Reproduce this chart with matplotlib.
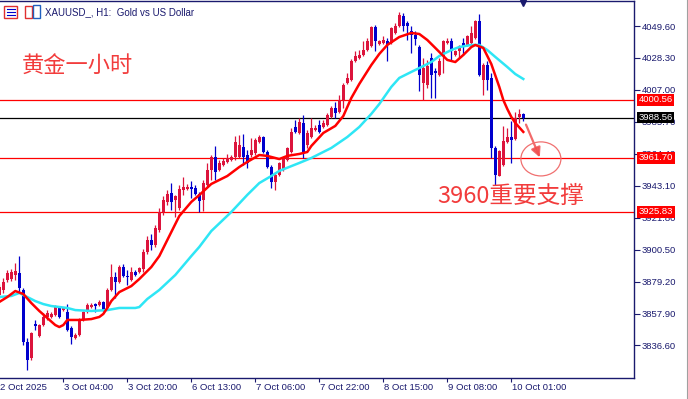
import matplotlib
matplotlib.use("Agg")
import matplotlib.pyplot as plt
import matplotlib.transforms as mtransforms
from matplotlib.patches import Rectangle, Ellipse
from matplotlib.lines import Line2D

plt.rcParams["font.family"] = ["Liberation Sans", "DejaVu Sans"]

NAVY = "#1a1a6e"
BULL = "#dc143c"
BEAR = "#0000cd"
LVL = "#ff0000"
NOTE = "#f23c3c"

# ---------- 数据: XAUUSD H1 K线 (索引 0..131) ----------
opens = [3870.3, 3873.6, 3880.3, 3881.0, 3883.6, 3885.0, 3873.6, 3838.9, 3828.3, 3851.0,
         3843.0, 3850.3, 3855.6, 3855.6, 3857.0, 3862.3, 3860.3, 3859.0, 3848.3, 3841.6,
         3843.6, 3853.6, 3859.0, 3862.3, 3864.3, 3863.6, 3865.6, 3861.6, 3873.6, 3882.3,
         3879.0, 3888.9, 3882.9, 3880.3, 3885.6, 3885.6, 3887.6, 3898.9, 3906.9, 3903.6,
         3913.6, 3925.6, 3932.3, 3938.3, 3933.6, 3928.3, 3940.3, 3941.0, 3942.3, 3941.6,
         3937.6, 3933.6, 3943.6, 3953.6, 3962.3, 3953.6, 3957.0, 3959.0, 3960.3, 3962.3,
         3962.3, 3969.0, 3963.6, 3963.6, 3965.0, 3972.3, 3975.6, 3965.6, 3955.6, 3945.6,
         3950.3, 3953.6, 3960.3, 3965.6, 3982.3, 3978.3, 3985.0, 3970.3, 3975.6, 3980.3,
         3983.6, 3982.3, 3983.6, 3989.0, 3995.0, 3992.3, 4000.3, 4011.6, 4013.6, 4026.3,
         4028.3, 4030.3, 4033.6, 4036.3, 4049.0, 4037.6, 4038.3, 4039.6, 4038.3, 4045.0,
         4049.6, 4056.3, 4051.6, 4046.3, 4043.6, 4035.6, 4011.6, 4010.3, 4028.3, 4019.6,
         4017.0, 4029.6, 4038.3, 4039.6, 4030.3, 4033.0, 4038.3, 4037.0, 4038.3, 4041.6,
         4053.0, 4013.6, 4023.6, 4015.0, 3968.3, 3949.6, 3957.0, 3972.3, 3975.6, 3974.3,
         3989.0, 3991.0]
highs = [3877.6, 3881.6, 3887.0, 3887.6, 3891.6, 3896.3, 3875.0, 3841.6, 3845.6, 3853.6,
         3851.0, 3858.3, 3860.3, 3859.0, 3863.6, 3863.0, 3862.3, 3864.3, 3849.6, 3844.9,
         3854.9, 3859.6, 3864.9, 3864.9, 3864.9, 3867.0, 3866.3, 3875.0, 3890.9, 3885.6,
         3890.3, 3890.9, 3887.0, 3888.9, 3887.0, 3888.9, 3900.9, 3909.6, 3910.9, 3917.0,
         3928.3, 3936.3, 3940.3, 3945.0, 3937.0, 3943.6, 3948.9, 3944.3, 3946.3, 3943.6,
         3939.0, 3947.0, 3958.3, 3963.6, 3969.6, 3960.3, 3961.6, 3964.3, 3963.6, 3976.3,
         3977.0, 3977.6, 3967.0, 3975.0, 3975.0, 3977.0, 3976.3, 3967.0, 3957.0, 3952.3,
         3959.0, 3962.3, 3969.0, 3981.6, 3987.0, 3988.3, 3990.3, 3980.3, 3988.3, 3983.6,
         3987.0, 3987.0, 3991.6, 3996.3, 3999.0, 4003.6, 4011.6, 4018.3, 4027.6, 4033.0,
         4033.6, 4039.6, 4041.6, 4049.6, 4050.3, 4040.3, 4043.0, 4041.6, 4049.0, 4051.6,
         4059.0, 4058.3, 4053.0, 4049.6, 4046.3, 4037.0, 4028.3, 4027.0, 4031.6, 4021.6,
         4028.3, 4040.3, 4041.6, 4041.6, 4033.6, 4037.0, 4041.6, 4043.6, 4049.6, 4053.6,
         4057.6, 4025.0, 4026.3, 4018.3, 3969.6, 3967.0, 3983.0, 3981.6, 3986.3, 3992.3,
         3994.3, 3991.6]
lows = [3868.3, 3871.6, 3879.0, 3879.6, 3880.3, 3872.3, 3836.9, 3820.3, 3827.0, 3847.0,
        3842.3, 3849.6, 3853.6, 3855.0, 3856.3, 3855.0, 3859.6, 3846.3, 3837.6, 3840.9,
        3843.0, 3852.9, 3858.3, 3861.6, 3859.0, 3863.0, 3859.6, 3860.9, 3872.9, 3868.3,
        3878.3, 3882.3, 3876.9, 3879.6, 3882.9, 3884.9, 3885.6, 3897.6, 3900.3, 3902.3,
        3912.3, 3923.6, 3930.3, 3927.0, 3922.3, 3927.0, 3937.0, 3940.3, 3935.0, 3937.0,
        3925.6, 3926.3, 3943.0, 3947.0, 3947.0, 3953.0, 3956.3, 3958.3, 3959.6, 3960.3,
        3961.6, 3957.0, 3955.0, 3962.3, 3963.6, 3971.6, 3965.0, 3955.0, 3941.6, 3940.3,
        3949.6, 3953.0, 3959.6, 3965.0, 3978.3, 3977.6, 3961.6, 3968.3, 3975.0, 3979.6,
        3978.3, 3981.6, 3983.0, 3988.3, 3988.3, 3991.6, 3995.0, 4011.0, 4013.0, 4025.6,
        4027.6, 4029.6, 4033.0, 4035.6, 4033.0, 4037.0, 4037.6, 4026.3, 4037.6, 4044.3,
        4049.0, 4046.3, 4040.3, 4031.6, 4037.0, 4006.3, 4000.3, 4008.3, 4001.6, 4001.6,
        4016.3, 4018.3, 4037.6, 4026.3, 4029.6, 4028.3, 4030.3, 4036.3, 4037.6, 4041.0,
        4016.3, 4003.6, 4007.0, 3961.6, 3943.6, 3949.6, 3956.3, 3971.6, 3958.3, 3973.6,
        3985.0, 3986.3]
closes = [3875.6, 3879.0, 3885.0, 3885.6, 3886.3, 3875.0, 3838.9, 3827.0, 3844.9, 3849.6,
          3850.3, 3855.6, 3858.3, 3857.6, 3862.3, 3855.6, 3861.6, 3847.0, 3842.3, 3843.6,
          3853.6, 3859.0, 3863.6, 3863.6, 3863.0, 3865.6, 3860.3, 3873.6, 3882.3, 3879.0,
          3888.9, 3882.9, 3882.3, 3885.6, 3883.6, 3888.3, 3898.9, 3906.9, 3903.6, 3915.0,
          3925.6, 3933.6, 3937.6, 3932.3, 3936.3, 3941.0, 3942.3, 3942.3, 3941.0, 3937.6,
          3932.9, 3945.0, 3953.6, 3962.3, 3952.3, 3958.3, 3959.6, 3961.6, 3962.3, 3972.3,
          3970.3, 3962.3, 3958.3, 3967.0, 3973.6, 3975.6, 3965.6, 3955.6, 3945.6, 3950.3,
          3958.3, 3961.6, 3968.3, 3979.0, 3979.0, 3985.6, 3965.6, 3978.3, 3981.6, 3981.6,
          3979.0, 3985.0, 3990.3, 3995.0, 3991.6, 4000.3, 4010.3, 4015.0, 4026.3, 4029.6,
          4030.3, 4033.6, 4039.6, 4049.0, 4039.6, 4039.6, 4040.3, 4037.0, 4048.3, 4049.6,
          4057.0, 4049.6, 4049.6, 4043.6, 4041.0, 4017.0, 4021.6, 4023.0, 4017.0, 4018.3,
          4026.3, 4039.6, 4039.6, 4033.0, 4033.0, 4036.3, 4036.3, 4043.0, 4045.0, 4053.0,
          4017.0, 4023.6, 4013.6, 3968.3, 3950.3, 3966.3, 3973.0, 3975.6, 3973.6, 3988.3,
          3991.0, 3988.3]

# 快速均线 (红) 与 慢速均线 (青), 按 K 线索引取样
ma_fast_idx = [0, 2, 4, 6, 8, 10, 12, 14, 15, 16, 17, 20, 23, 25, 26, 27, 28, 30, 33, 35,
               38, 40, 42, 45, 48, 50, 53, 57, 60, 62, 65, 67, 70, 72, 75, 77, 78, 81, 84, 86,
               88, 90, 93, 95, 97, 100, 103, 105, 107, 109, 112, 114, 116, 118, 119, 121, 123,
               125, 126, 127, 128, 129, 131]
ma_fast = [3865.6, 3868.9, 3872.9, 3870.9, 3864.9, 3859.6, 3854.9, 3850.2, 3848.9, 3850.2,
           3853.6, 3853.6, 3854.2, 3855.6, 3857.6, 3861.6, 3866.2, 3872.2, 3876.2, 3880.9,
           3888.9, 3896.2, 3906.9, 3922.9, 3932.3, 3936.9, 3944.3, 3949.6, 3955.6, 3959.0,
           3963.6, 3963.0, 3960.9, 3963.0, 3964.3, 3965.6, 3969.6, 3978.3, 3983.0, 3989.6,
           4001.6, 4011.0, 4023.6, 4031.0, 4037.0, 4042.3, 4045.0, 4044.3, 4040.3, 4035.0,
           4027.0, 4025.6, 4030.3, 4035.6, 4037.0, 4035.0, 4024.3, 4009.0, 4000.3, 3994.3,
           3989.0, 3985.0, 3979.0]
ma_slow_idx = [0, 3, 5, 7, 9, 11, 13, 17, 19, 23, 27, 30, 34, 35, 37, 40, 44, 48, 50, 53,
               58, 62, 65, 68, 70, 75, 78, 83, 87, 90, 93, 95, 98, 100, 103, 105, 108, 110,
               113, 115, 118, 120, 122, 124, 127, 129, 131]
ma_slow = [3868.9, 3869.6, 3871.6, 3868.9, 3866.2, 3864.2, 3862.9, 3861.6, 3860.2, 3859.6,
           3860.2, 3861.6, 3861.6, 3862.2, 3867.6, 3873.6, 3883.6, 3896.2, 3902.3, 3912.9,
           3925.6, 3937.0, 3944.9, 3949.6, 3953.0, 3958.3, 3961.6, 3968.3, 3975.6, 3982.3,
           3991.0, 3997.6, 4009.0, 4015.0, 4019.0, 4021.6, 4025.6, 4029.6, 4033.6, 4035.6,
           4037.0, 4037.0, 4033.6, 4029.0, 4022.3, 4017.6, 4014.3]

levels = [4000.56, 3961.70, 3925.83]
bid = 3988.56
y_ticks = [4049.60, 4028.30, 4007.00, 3985.70, 3964.40, 3943.10, 3921.80,
           3900.50, 3879.20, 3857.90, 3836.60]
x_tick_idx = [0, 16, 32, 48, 64, 80, 96, 112, 128]
x_tick_labels = ["2 Oct 2025", "3 Oct 04:00", "3 Oct 20:00", "6 Oct 13:00", "7 Oct 06:00",
                 "7 Oct 22:00", "8 Oct 15:00", "9 Oct 08:00", "10 Oct 01:00"]

W, H = 688, 399
fig = plt.figure(figsize=(W / 100, H / 100), dpi=100)
ax = fig.add_axes([0, 1 - 378 / H, 634 / W, 377 / H])
ax.set_xlim(0.175, 158.675)
ax.set_ylim(3814.9, 4066.3)

# 水平线
for lv in levels:
    ax.axhline(lv, color=LVL, lw=0.9, zorder=1)
ax.axhline(bid, color="black", lw=0.9, zorder=1)

# K线
n = len(opens)
xs = list(range(n))
cols = [BULL if c >= o else BEAR for o, c in zip(opens, closes)]
ax.vlines(xs, lows, highs, colors=cols, lw=0.9, zorder=2)
bottoms = [min(o, c) for o, c in zip(opens, closes)]
heights = [max(abs(c - o), 0.7) for o, c in zip(opens, closes)]
ax.bar(xs, heights, bottom=bottoms, width=0.75, color=cols, lw=0, zorder=2)

# 均线
ax.plot(ma_slow_idx, ma_slow, color="#2ee6f5", lw=1.8, zorder=3)
ax.plot(ma_fast_idx, ma_fast, color="#ff0000", lw=1.8, zorder=3)

# 坐标轴样式
for s in ("top", "right", "bottom"):
    ax.spines[s].set_color(NAVY)
    ax.spines[s].set_linewidth(1.0)
ax.spines["left"].set_visible(False)
ax.yaxis.tick_right()
ax.set_yticks(y_ticks)
ax.set_yticklabels([f"{v:.2f}" for v in y_ticks])
ax.tick_params(axis="y", direction="out", length=4, width=0.8, color=NAVY,
               labelcolor=NAVY, labelsize=6.8, pad=1.5)
ax.set_xticks(x_tick_idx[1:])
ax.set_xticklabels([])
ax.tick_params(axis="x", direction="out", length=3, width=0.8, color=NAVY)
blend = mtransforms.blended_transform_factory(ax.transData, ax.transAxes)
for i, lab in zip(x_tick_idx, x_tick_labels):
    ax.text(i + 0.15, -0.024, lab, transform=blend, ha="left", va="center",
            fontsize=6.8, color=NAVY, clip_on=False)

# 价格标签
yblend = mtransforms.blended_transform_factory(ax.transAxes, ax.transData)
for lv, bg in [(levels[0], LVL), (bid, "black"), (levels[1], LVL), (levels[2], LVL)]:
    ax.text(1.0075, lv, f"{lv:.2f}", transform=yblend, ha="left", va="center",
            fontsize=6.8, color="white", clip_on=False, zorder=6,
            bbox=dict(boxstyle="square,pad=0.15", fc=bg, ec="none"))

# 标题与图标
fig.text(45 / W, 1 - 12 / H, "XAUUSD_, H1:  Gold vs US Dollar", ha="left", va="center",
         fontsize=7, color=NAVY)
def px_rect(x, y, w, h, **kw):
    fig.add_artist(Rectangle((x / W, 1 - (y + h) / H), w / W, h / H,
                             transform=fig.transFigure, **kw))
px_rect(4, 6, 13, 12, fc="white", ec="#e03030", lw=1)
for yy in (9, 12, 15):
    fig.add_artist(Line2D([7 / W, 15 / W], [1 - yy / H] * 2, color=BEAR, lw=0.8,
                          transform=fig.transFigure))
px_rect(25, 6, 7, 12, fc="white", ec="#e03030", lw=1)
px_rect(33, 5, 7, 13, fc="white", ec="#2060c0", lw=1)

# 右侧窗口边缘
fig.add_artist(Line2D([686.5 / W] * 2, [0, 1], color="#a0a0a0", lw=0.8,
                      transform=fig.transFigure))
# 顶部移位标记
ax.plot([130.8], [4065.0], marker="v", color=NAVY, ms=4, clip_on=False, zorder=6)

# 文字注释
ax.text(22 / 634, 1 - 65 / 377, "黄金一小时", transform=ax.transAxes, ha="left",
        va="center", fontsize=16, color=NOTE, family=["Noto Sans CJK SC", "DejaVu Sans"])
ax.text(437 / 634, 1 - 195 / 377, "3960重要支撑", transform=ax.transAxes, ha="left",
        va="center", fontsize=17, color=NOTE, family=["Noto Sans CJK SC", "DejaVu Sans"])

# 箭头与圆圈
ax.annotate("", xy=(135.4, 3960.3), xytext=(131.4, 3985.6),
            arrowprops=dict(arrowstyle="-|>", color="#f05050", lw=1.6,
                            mutation_scale=14, alpha=0.85), zorder=5)
ax.add_patch(Ellipse((135.4, 3961.0), 10, 22.7, fill=False, ec="#f07070", lw=0.9, zorder=5))

fig.savefig("out.png", dpi=100)
